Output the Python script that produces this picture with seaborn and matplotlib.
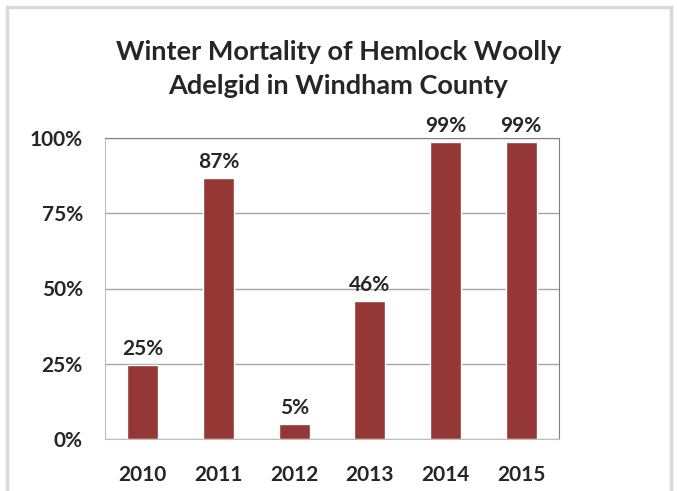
import seaborn as sns
import matplotlib.pyplot as plt
import pandas as pd
from matplotlib.patches import Rectangle

years = ['2010', '2011', '2012', '2013', '2014', '2015']
mortality = [0.246, 0.866, 0.05, 0.457, 0.987, 0.988]
y_ticks = [0, 0.25, 0.5, 0.75, 1.0]
y_tick_labels = ['0%', '25%', '50%', '75%', '100%']

df = pd.DataFrame({'year': years, 'mortality': mortality})

sns.set_style('white')
plt.rcParams['font.family'] = ['Lato', 'DejaVu Sans']

fig = plt.figure(figsize=(6.77, 4.91), dpi=100)
ax = fig.add_axes([105 / 677, 1 - 439 / 491, 454 / 677, 301 / 491])

sns.barplot(data=df, x='year', y='mortality', color='#953735', saturation=1,
            width=0.41, ax=ax)

ax.set_ylim(0, 1)
ax.set_yticks(y_ticks)
ax.set_yticklabels(y_tick_labels, fontsize=15, fontweight='bold')
ax.set_xticks(range(len(years)))
ax.set_xticklabels(years, fontsize=15, fontweight='bold')
ax.tick_params(axis='x', pad=19, length=0)
ax.tick_params(axis='y', pad=16, length=0)
ax.set_xlabel('')
ax.set_ylabel('')
ax.yaxis.grid(True, color='#a6a6a6', linewidth=1)
ax.set_axisbelow(True)
for side in ['top', 'right']:
    ax.spines[side].set_color('#7f7f7f')
for side in ['left', 'bottom']:
    ax.spines[side].set_color('#bfbfbf')

for i, v in enumerate(mortality):
    ax.text(i, v + 0.02, f'{round(v * 100)}%', ha='center', va='bottom',
            fontsize=15, fontweight='bold')

fig.text(0.5, 1 - 69 / 491, 'Winter Mortality of Hemlock Woolly\nAdelgid in Windham County',
         ha='center', va='center', fontsize=19.5, fontweight='bold', linespacing=1.55)

fig.patches.append(Rectangle((7 / 677, -0.05), 664 / 677, 1 - 7 / 491 + 0.05,
                             transform=fig.transFigure, fill=False,
                             edgecolor='#d9d9d9', linewidth=2.5))

fig.savefig('out.png', dpi=100)
